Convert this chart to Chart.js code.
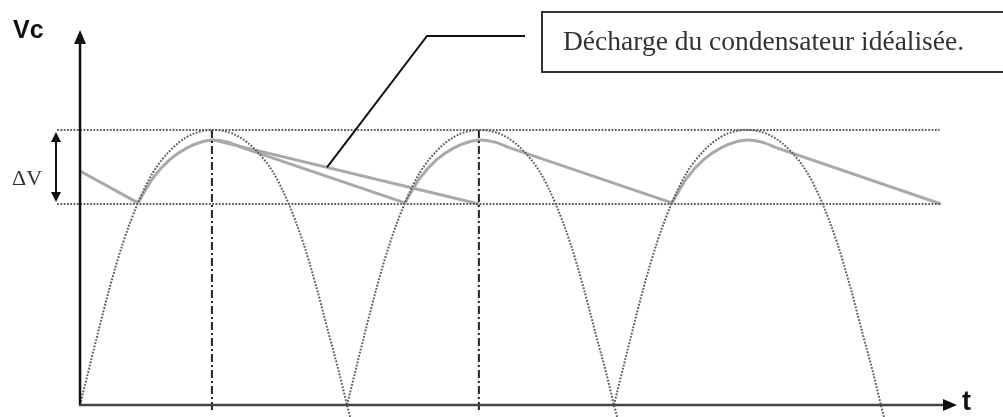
<!DOCTYPE html>
<html lang="fr">
<head>
<meta charset="UTF-8">
<title>Tension aux bornes du condensateur</title>
<script src="https://cdn.jsdelivr.net/npm/chart.js"></script>
<style>
  html, body { margin: 0; padding: 0; background: #fff; }
  .grafico { position: relative; width: 1003px; height: 417px; }
</style>
</head>
<body>
<div class="grafico"><canvas id="grafico"></canvas></div>
<script>
// demi-alternance redressée (t en ms, V normalisée : Vmax = 1)
const arcStarts = [0, 10, 20];
const arcT = [0, 0.64, 1.12, 1.61, 2.17, 2.73, 3.37, 4.01, 4.61, 4.97, 5.36, 5.96, 6.6, 7.24, 7.8, 8.36, 8.85, 9.34, 9.7, 10.0, 10.12];
const arcV = [0, 0.25, 0.43, 0.59, 0.735, 0.845, 0.925, 0.975, 0.997, 1.0, 0.997, 0.975, 0.925, 0.845, 0.735, 0.59, 0.43, 0.25, 0.12, 0, -0.045];

// charge du condensateur (bosses grises), même décalage que les arcs
const chargeT = [2.17, 2.73, 3.37, 4.01, 4.61, 4.98, 5.54, 6.1];
const chargeV = [0.735, 0.825, 0.893, 0.935, 0.958, 0.964, 0.956, 0.935];

// décharge réelle (segments droits)
const dechargeT = [[0, 2.17], [6.1, 12.17], [16.1, 22.17], [26.1, 32.25]];
const dechargeV = [[0.851, 0.735], [0.935, 0.735], [0.935, 0.735], [0.935, 0.731]];

// décharge idéalisée
const idealT = [4.98, 14.94];
const idealV = [0.964, 0.731];

// niveaux Vmax / Vmin et crêtes marquées
const vMax = 1;
const vMin = 0.731;
const niveauxT = [-0.86, 32.2];
const cretesT = [4.94, 14.94];

const gris = '#a9a9a9';
const pointille = '#635c5c';

const datasets = [];

arcStarts.forEach(t0 => {
    datasets.push({
        data: arcT.map((t, i) => ({ x: t0 + t, y: arcV[i] })),
        borderColor: pointille, borderWidth: 2, borderDash: [1.8, 1.5],
        cubicInterpolationMode: 'monotone', clip: false
    });
});

[vMax, vMin].forEach(v => {
    datasets.push({
        data: niveauxT.map(t => ({ x: t, y: v })),
        borderColor: pointille, borderWidth: 1.8, borderDash: [1.8, 1.5],
        tension: 0, clip: false
    });
});

cretesT.forEach(t => {
    datasets.push({
        data: [{ x: t, y: vMax }, { x: t, y: -0.02 }],
        borderColor: '#222', borderWidth: 2, borderDash: [8, 3, 2, 3],
        tension: 0, clip: false
    });
});

arcStarts.forEach(t0 => {
    datasets.push({
        data: chargeT.map((t, i) => ({ x: t0 + t, y: chargeV[i] })),
        borderColor: gris, borderWidth: 3, cubicInterpolationMode: 'monotone', clip: false
    });
});

dechargeT.forEach((seg, k) => {
    datasets.push({
        data: seg.map((t, i) => ({ x: t, y: dechargeV[k][i] })),
        borderColor: gris, borderWidth: 3, tension: 0, clip: false
    });
});

datasets.push({
    data: idealT.map((t, i) => ({ x: t, y: idealV[i] })),
    borderColor: gris, borderWidth: 3, tension: 0, clip: false
});

// axes fléchés, légendes et encadré
const dessin = {
    id: 'dessin',
    afterDatasetsDraw(chart) {
        const c = chart.ctx;
        const xs = chart.scales.x, ys = chart.scales.y;
        const x0 = xs.getPixelForValue(0);
        const y0 = ys.getPixelForValue(0);
        const yTop = ys.getPixelForValue(1.364);
        const xEnd = xs.getPixelForValue(32.85);
        c.save();

        // axe Vc
        c.strokeStyle = '#111';
        c.fillStyle = '#111';
        c.lineWidth = 2.5;
        c.beginPath();
        c.moveTo(x0, y0 + 1);
        c.lineTo(x0, yTop + 10);
        c.stroke();
        c.beginPath();
        c.moveTo(x0, yTop);
        c.lineTo(x0 - 6, yTop + 14);
        c.lineTo(x0 + 6, yTop + 14);
        c.closePath();
        c.fill();

        // axe t
        c.strokeStyle = '#444';
        c.beginPath();
        c.moveTo(x0 - 1, y0);
        c.lineTo(xEnd - 10, y0);
        c.stroke();
        c.fillStyle = '#111';
        c.beginPath();
        c.moveTo(xEnd, y0);
        c.lineTo(xEnd - 14, y0 - 6);
        c.lineTo(xEnd - 14, y0 + 6);
        c.closePath();
        c.fill();

        c.font = 'bold 25px "Liberation Sans", Arial, sans-serif';
        c.textBaseline = 'alphabetic';
        c.fillText('Vc', 13, 38);
        c.font = 'bold 27px "Liberation Sans", Arial, sans-serif';
        c.fillText('t', 962, 410);

        // ΔV
        const yMax = ys.getPixelForValue(vMax);
        const yMin = ys.getPixelForValue(vMin);
        const xd = 56;
        c.strokeStyle = '#111';
        c.lineWidth = 2;
        c.beginPath();
        c.moveTo(xd, yMax + 6);
        c.lineTo(xd, yMin - 6);
        c.stroke();
        c.beginPath();
        c.moveTo(xd, yMax + 2);
        c.lineTo(xd - 5, yMax + 12);
        c.lineTo(xd + 5, yMax + 12);
        c.closePath();
        c.fill();
        c.beginPath();
        c.moveTo(xd, yMin - 2);
        c.lineTo(xd - 5, yMin - 12);
        c.lineTo(xd + 5, yMin - 12);
        c.closePath();
        c.fill();
        c.font = '22px "Liberation Serif", "Times New Roman", serif';
        c.fillStyle = '#333';
        c.fillText('ΔV', 12, 185);

        // encadré et trait de rappel
        c.strokeStyle = '#333';
        c.lineWidth = 2;
        c.strokeRect(542, 12, 480, 60);
        c.font = '27.5px "Liberation Serif", "Times New Roman", serif';
        c.fillStyle = '#333';
        c.fillText('Décharge du condensateur idéalisée.', 563, 50);

        const tRappel = 9.25;
        const vRappel = idealV[0] + (idealV[1] - idealV[0]) * (tRappel - idealT[0]) / (idealT[1] - idealT[0]);
        c.strokeStyle = '#111';
        c.beginPath();
        c.moveTo(xs.getPixelForValue(tRappel), ys.getPixelForValue(vRappel));
        c.lineTo(427, 36);
        c.lineTo(525, 36);
        c.stroke();

        c.restore();
    }
};

const ctx = document.getElementById('grafico').getContext('2d');
const chart = new Chart(ctx, {
    type: 'line',
    data: { datasets: datasets },
    options: {
        responsive: true,
        maintainAspectRatio: false,
        animation: false,
        elements: { point: { radius: 0 } },
        layout: { padding: { left: 48, right: 42, top: 20, bottom: 1 } },
        scales: {
            x: { type: 'linear', min: -1.2, max: 33, display: false },
            y: { min: -0.04, max: 1.4, display: false }
        },
        plugins: {
            legend: { display: false },
            tooltip: { enabled: false }
        }
    },
    plugins: [dessin]
});
</script>
</body>
</html>
